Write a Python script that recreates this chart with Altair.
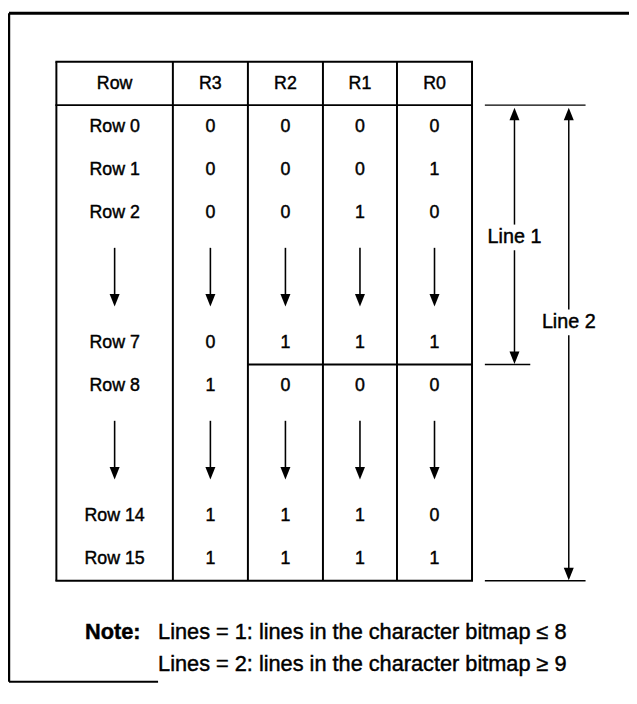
import altair as alt
import pandas as pd

# ---------------- data ----------------
headers = ["Row", "R3", "R2", "R1", "R0"]
row_labels = ["Row 0", "Row 1", "Row 2", None, "Row 7", "Row 8", None, "Row 14", "Row 15"]
R3 = [0, 0, 0, None, 0, 1, None, 1, 1]
R2 = [0, 0, 0, None, 1, 0, None, 1, 1]
R1 = [0, 0, 1, None, 1, 0, None, 1, 1]
R0 = [0, 1, 0, None, 1, 0, None, 0, 1]
line_labels = ["Line 1", "Line 2"]
line_last_row = ["Row 7", "Row 15"]
note_label = "Note:"
note_lines = [
    "Lines = 1: lines in the character bitmap \u2264 8",
    "Lines = 2: lines in the character bitmap \u2265 9",
]

# ---------------- layout ----------------
FONT = "Liberation Sans"
TABLE_FS = 18
LINE_FS = 20
NOTE_FS = 22
COL_EDGES = [57, 175, 251, 327, 402, 478]
TABLE_TOP = 58
HEADER_BOTTOM = 102
SLOT_H = 43.8
ARROW_SLOTS = 2
BRACKET_X = [521, 576]
BRACKET_LABEL_Y = [236, 322]
BRACKET_TICK_X0 = 491
BRACKET_TICK_X1 = [537, 593]
NOTE_X, NOTE_TEXT_X = 86, 160
NOTE_Y0, NOTE_DY = 636, 32

# slot positions for each table entry
slots = []
pos = 0.0
for lab in row_labels:
    span = 1 if lab is not None else ARROW_SLOTS
    slots.append((pos, pos + span))
    pos += span
n_slots = pos
TABLE_BOTTOM = HEADER_BOTTOM + n_slots * SLOT_H


def slot_y(s):
    return HEADER_BOTTOM + s * SLOT_H


col_centers = [(COL_EDGES[i] + COL_EDGES[i + 1]) / 2 for i in range(len(headers))]
columns = [row_labels, R3, R2, R1, R0]

texts, heads_down, heads_up, segs = [], [], [], []


def seg(x, y, x2, y2, w):
    segs.append({"x": x, "y": y, "x2": x2, "y2": y2, "w": w})


# header
for c, h in enumerate(headers):
    texts.append({"x": col_centers[c], "y": (TABLE_TOP + HEADER_BOTTOM) / 2 + 1, "t": h,
                  "size": TABLE_FS, "weight": "normal", "align": "center"})

# cells
for r, lab in enumerate(row_labels):
    s0, s1 = slots[r]
    for c in range(len(headers)):
        v = columns[c][r]
        if lab is not None:
            texts.append({"x": col_centers[c], "y": slot_y((s0 + s1) / 2),
                          "t": str(v), "size": TABLE_FS, "weight": "normal", "align": "center"})
        else:
            ytop = slot_y(s0 + 0.3)
            ytip = slot_y(s1 - 0.35)
            seg(col_centers[c], ytop, col_centers[c], ytip - 8, 1.6)
            heads_down.append({"x": col_centers[c], "y": ytip - 6})

# grid lines
for e in COL_EDGES:
    seg(e, TABLE_TOP, e, TABLE_BOTTOM, 2)
for y in (TABLE_TOP, HEADER_BOTTOM, TABLE_BOTTOM):
    seg(COL_EDGES[0] - 1, y, COL_EDGES[-1] + 1, y, 2)
# split between Row 7 and Row 8 in R2..R0
split_y = slot_y(slots[row_labels.index("Row 7")][1])
seg(COL_EDGES[2], split_y, COL_EDGES[-1], split_y, 2)

# brackets
seg(BRACKET_TICK_X0, HEADER_BOTTOM, BRACKET_TICK_X1[1], HEADER_BOTTOM, 1.5)
for i, lab in enumerate(line_labels):
    yb = slot_y(slots[row_labels.index(line_last_row[i])][1])
    seg(BRACKET_TICK_X0, yb, BRACKET_TICK_X1[i], yb, 1.5)
    x = BRACKET_X[i]
    ly = BRACKET_LABEL_Y[i]
    seg(x, HEADER_BOTTOM + 12, x, ly - 13, 1.5)
    seg(x, ly + 13, x, yb - 12, 1.5)
    heads_up.append({"x": x, "y": HEADER_BOTTOM + 9})
    heads_down.append({"x": x, "y": yb - 7})
    texts.append({"x": x, "y": ly, "t": lab, "size": LINE_FS, "weight": "normal", "align": "center"})

# note
texts.append({"x": NOTE_X, "y": NOTE_Y0, "t": note_label, "size": NOTE_FS, "weight": "bold", "align": "left"})
for i, t in enumerate(note_lines):
    texts.append({"x": NOTE_TEXT_X, "y": NOTE_Y0 + i * NOTE_DY, "t": t, "size": NOTE_FS,
                  "weight": "normal", "align": "left"})

# outer frame (as far as the page allows)
seg(9, 9, 637, 9, 3)
seg(9, 9, 9, 686, 2.5)
seg(9, 686, 160, 686, 2)

# ---------------- chart ----------------
X = alt.Scale(domain=[8, 637], nice=False, zero=False)
Y = alt.Scale(domain=[8, 688], nice=False, zero=False, reverse=True)

seg_df = pd.DataFrame(segs)
rules = alt.Chart(seg_df).mark_rule(color="black").encode(
    x=alt.X("x:Q", scale=X, axis=None),
    y=alt.Y("y:Q", scale=Y, axis=None),
    x2="x2:Q",
    y2="y2:Q",
    strokeWidth=alt.StrokeWidth("w:Q", scale=None, legend=None),
)

DOWN = "M-0.8,-1L0.8,-1L0,1Z"
UP = "M-0.8,1L0.8,1L0,-1Z"
hd = alt.Chart(pd.DataFrame(heads_down)).mark_point(
    shape=DOWN, filled=True, size=160, color="black", opacity=1
).encode(x=alt.X("x:Q", scale=X, axis=None), y=alt.Y("y:Q", scale=Y, axis=None))
hu = alt.Chart(pd.DataFrame(heads_up)).mark_point(
    shape=UP, filled=True, size=160, color="black", opacity=1
).encode(x=alt.X("x:Q", scale=X, axis=None), y=alt.Y("y:Q", scale=Y, axis=None))

tdf = pd.DataFrame(texts)
txt_layers = []
for (align, weight), g in tdf.groupby(["align", "weight"]):
    txt_layers.append(
        alt.Chart(g).mark_text(font=FONT, align=align, baseline="middle", fontWeight=weight,
                               color="black", stroke="black", strokeWidth=0.45).encode(
            x=alt.X("x:Q", scale=X, axis=None),
            y=alt.Y("y:Q", scale=Y, axis=None),
            text="t:N",
            size=alt.Size("size:Q", scale=None, legend=None),
        )
    )

chart = alt.layer(rules, hd, hu, *txt_layers).properties(
    width=629, height=680, padding=0, autosize=alt.AutoSizeParams(type="none"),
    background="white",
).configure_view(stroke=None)

chart.save("out.html", embed_options={"renderer": "svg", "actions": False})
